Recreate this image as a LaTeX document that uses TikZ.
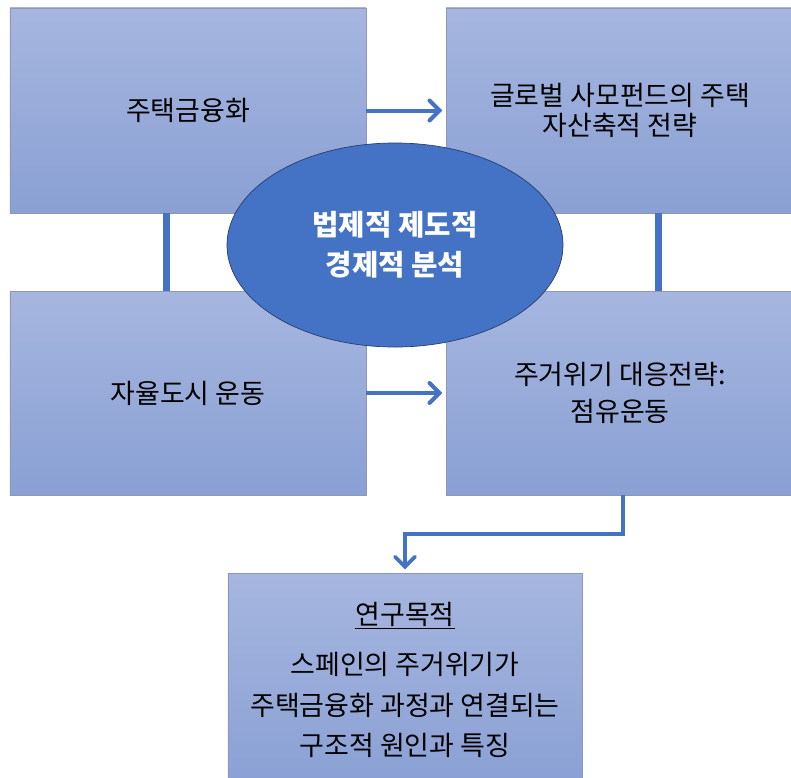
\documentclass[tikz,border=0pt]{standalone}
\usepackage{fontspec}
\setmainfont{Noto Sans CJK KR}
\usepackage{tikz}
\usetikzlibrary{arrows.meta,positioning,calc,shapes.geometric}
\definecolor{paneltop}{RGB}{166,182,223}
\definecolor{panelbot}{RGB}{138,160,212}
\definecolor{panelrim}{RGB}{140,152,182}
\definecolor{hubblue}{RGB}{68,114,196}
\definecolor{hubrim}{RGB}{40,62,110}

\begin{document}
\begin{tikzpicture}[x=0.03cm, y=-0.03cm,
    panel/.style={draw=panelrim, line width=0.6pt, top color=paneltop, bottom color=panelbot,
        align=center, font=\fontsize{23}{26}\selectfont, inner sep=0pt},
    hub/.style={ellipse, draw=hubrim, line width=0.6pt, fill=hubblue, text=white, align=center,
        font=\fontsize{24.5}{34}\selectfont\bfseries, inner sep=0pt,
        minimum width=10.08cm, minimum height=6.12cm},
    link/.style={draw=hubblue, line width=0.21cm},
    flow/.style={draw=hubblue, line width=0.12cm, shorten >=0.1cm,
        -{Straight Barb[length=0.3cm, width=0.6cm, line cap=round]}}]
    \useasboundingbox (0,0) rectangle (791,777);
    \clip (0,0) rectangle (791,777);

    % boxes
    \node[panel, minimum width=10.68cm, minimum height=6.15cm] (fin) at (188,110.5) {주택금융화};
    \node[panel, minimum width=10.44cm, minimum height=6.15cm] (fund) at (620,110.5) {글로벌 사모펀드의 주택\\자산축적 전략};
    \node[panel, minimum width=10.68cm, minimum height=6.12cm] (auto) at (188,393) {자율도시 운동};
    \node[panel, minimum width=10.44cm, minimum height=6.12cm] (crisis) at (620,393) {주거위기 대응전략:\\[5pt]점유운동};
    \node[panel, minimum width=10.62cm, minimum height=6.42cm] (goal) at (405,680)
        {\underline{연구목적}\\[17pt] 스페인의 주거위기가\\[9pt] 주택금융화 과정과 연결되는\\[8pt] 구조적 원인과 특징};

    % connectors
    \coordinate (lx) at (166,0);
    \coordinate (rx) at (658,0);
    \coordinate (ex) at (623,0);
    \coordinate (turn) at (405,534);
    \draw[link] (fin.south -| lx) -- (auto.north -| lx);
    \draw[link] (fund.south -| rx) -- (crisis.north -| rx);
    \draw[flow] (fin.east) -- (fin.east -| fund.west);
    \draw[flow] (auto.east) -- (auto.east -| crisis.west);
    \draw[flow, line width=0.11cm, line join=miter] (crisis.south -| ex) |- (turn) -- (goal.north);

    % centre
    \node[hub] (law) at (395,245) {법제적 제도적\\경제적 분석};
\end{tikzpicture}
\end{document}
